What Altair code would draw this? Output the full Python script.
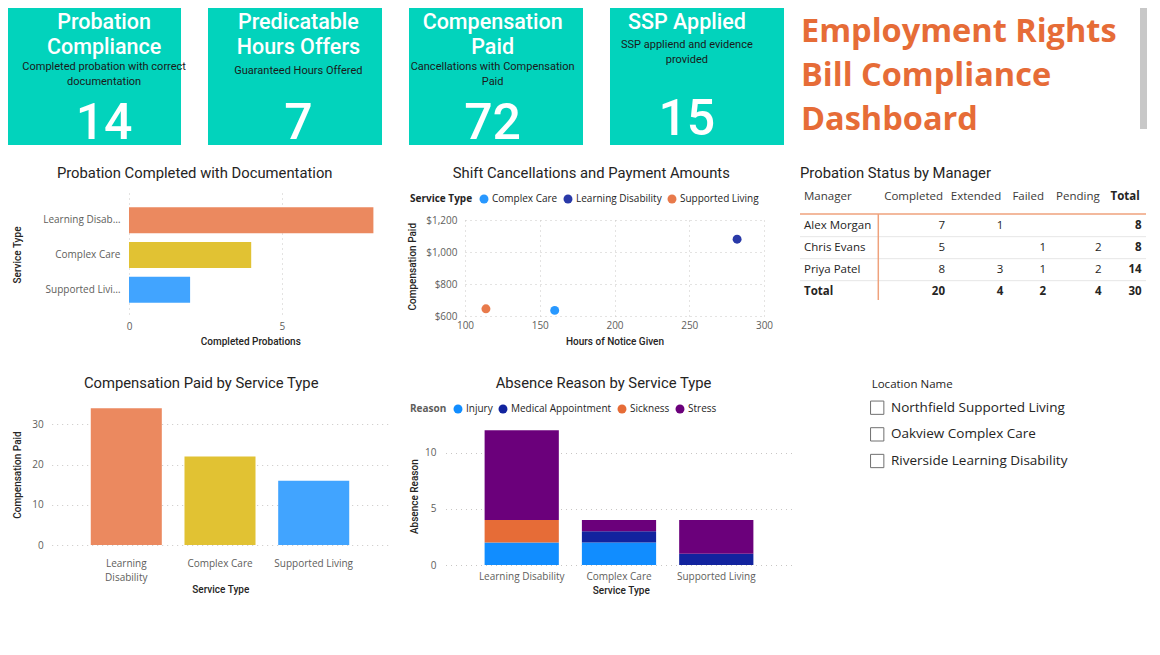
import altair as alt
import pandas as pd

# ---------------- data ----------------
kpi_titles = ["Probation\nCompliance", "Predicatable\nHours Offers", "Compensation\nPaid", "SSP Applied"]
kpi_subtitles = [
    "Completed probation with correct\ndocumentation",
    "Guaranteed Hours Offered",
    "Cancellations with Compensation\nPaid",
    "SSP appliend and evidence\nprovided",
]
kpi_values = [14, 7, 72, 15]

dashboard_title = "Employment Rights\nBill Compliance\nDashboard"

service_types = ["Learning Disability", "Complex Care", "Supported Living"]
service_colors = ["#EB895F", "#E1C233", "#41A4FF"]
completed_probations = [8, 4, 2]
comp_paid_counts = [34, 22, 16]

scatter_services = ["Complex Care", "Learning Disability", "Supported Living"]
scatter_colors = ["#118DFF", "#12239E", "#E66C37"]
hours_notice = [160, 282, 114]
comp_paid_amount = [635, 1080, 645]

reasons = ["Injury", "Medical Appointment", "Sickness", "Stress"]
reason_colors = ["#118DFF", "#12239E", "#E66C37", "#6B007B"]
absence_service = ["Learning Disability", "Learning Disability", "Learning Disability",
                   "Complex Care", "Complex Care", "Complex Care",
                   "Supported Living", "Supported Living"]
absence_reason = ["Injury", "Sickness", "Stress",
                  "Injury", "Medical Appointment", "Stress",
                  "Medical Appointment", "Stress"]
absence_count = [2, 2, 8, 2, 1, 1, 1, 3]

managers = ["Alex Morgan", "Chris Evans", "Priya Patel"]
status_cols = ["Completed", "Extended", "Failed", "Pending"]
status_completed = [7, 5, 8]
status_extended = [1, None, 3]
status_failed = [None, 1, 1]
status_pending = [None, 2, 2]

locations = ["Northfield Supported Living", "Oakview Complex Care", "Riverside Learning Disability"]

probation_ticks = [0, 5]
hours_ticks = [100, 150, 200, 250, 300]
amount_ticks = [600, 800, 1000, 1200]
comp_ticks = [0, 10, 20, 30]
absence_ticks = [0, 5, 10]

# ---------------- style ----------------
W, H = 1144, 630
DIN = "Roboto"
UI = "Open Sans"
DARK = "#252423"
GRAY = "#605E5C"
GRID = "#C8C6C4"
TEAL = "#02D3BC"
ORANGE = "#E66C37"


def single_text(text, x, y, **kw):
    return alt.Chart(pd.DataFrame({"t": [text]})).mark_text(lineBreak="\n", **kw).encode(
        text="t:N", x=alt.value(x), y=alt.value(y))


def x_axis(offset, grid=False, baseline="middle", **kw):
    return alt.Axis(orient="top", offset=offset, grid=grid, gridDash=[1, 4], gridColor=GRID,
                    gridWidth=1, domain=False, ticks=False, tickSize=0, labelPadding=0,
                    labelBaseline=baseline, labelFont=UI, labelFontSize=10, labelColor=GRAY,
                    labelFlush=False, labelAngle=0, title=None, **kw)


def y_axis(offset, grid=False, **kw):
    return alt.Axis(orient="left", offset=offset, grid=grid, gridDash=[1, 4], gridColor=GRID,
                    gridWidth=1, domain=False, ticks=False, tickSize=0, labelPadding=0,
                    labelAlign="right", labelBaseline="middle", labelFont=UI, labelFontSize=10,
                    labelColor=GRAY, labelFlush=False, title=None, **kw)


def title_text(text, x, y, align="center"):
    return single_text(text, x, y, font=DIN, fontSize=14.8, color=DARK, align=align, baseline="middle")


def axis_title(text, x, y, angle=0):
    kw = {"angle": angle} if angle else {}
    return single_text(text, x, y, font=DIN, fontSize=10, fontWeight=500, color=DARK,
                       align="center", baseline="middle", **kw)


layers = []

# ---------------- KPI cards ----------------
kpi_keys = [t.replace("\n", " ") for t in kpi_titles]
cards_df = pd.DataFrame({"key": kpi_keys, "title": kpi_titles, "subtitle": kpi_subtitles, "value": kpi_values})
card_x = alt.X("key:N", sort=kpi_keys,
               scale=alt.Scale(domain=kpi_keys, range=[-1, 776], paddingInner=0.1343, paddingOuter=0),
               axis=None)
layers.append(alt.Chart(cards_df).mark_rect(color=TEAL).encode(x=card_x, y=alt.value(0), y2=alt.value(137)))
layers.append(alt.Chart(cards_df).mark_text(font=DIN, fontSize=21.5, fontWeight=500, color="white",
                                            baseline="top", lineHeight=25.5, lineBreak="\n")
              .encode(x=card_x, y=alt.value(3.5), text="title:N"))
sub_y = [59, 63, 59, 37]
num_y = [130.5, 130.5, 130.5, 127]
for key, sy, ny in zip(kpi_keys, sub_y, num_y):
    base = alt.Chart(cards_df).transform_filter(alt.datum.key == key)
    layers.append(base.mark_text(font=DIN, fontSize=11, color="#1A1A1A", baseline="middle",
                                 lineHeight=14.5, lineBreak="\n")
                  .encode(x=card_x, y=alt.value(sy), text="subtitle:N"))
    layers.append(base.mark_text(font=DIN, fontSize=50, fontWeight=500, color="white", baseline="alphabetic")
                  .encode(x=card_x, y=alt.value(ny), text="value:Q"))

# dashboard title + scrollbar
layers.append(single_text(dashboard_title, 793, 23.9, font=UI, fontWeight="bold", fontSize=32.5,
                          color=ORANGE, align="left", baseline="middle", lineHeight=44))
layers.append(alt.Chart(pd.DataFrame({"a": [0]})).mark_rect(color="#C8C8C8").encode(
    x=alt.value(1132), x2=alt.value(1139), y=alt.value(0), y2=alt.value(121)))

# ---------------- Panel A: probation bars ----------------
prob_df = pd.DataFrame({"Service Type": service_types, "Completed": completed_probations})
layers.append(alt.Chart(prob_df).mark_bar().encode(
    y=alt.Y("Service Type:N", sort=service_types,
            scale=alt.Scale(domain=service_types, range=[185, 309], paddingInner=0.254, paddingOuter=0.41),
            axis=y_axis(-112, labelLimit=78)),
    x=alt.X("Completed:Q", scale=alt.Scale(domain=[0, 8], range=[121, 365.4], nice=False),
            axis=x_axis(-318.7, grid=True, values=probation_ticks, format="d")),
    color=alt.Color("Service Type:N", scale=alt.Scale(domain=service_types, range=service_colors), legend=None),
))
layers.append(title_text("Probation Completed with Documentation", 186.7, 166))
layers.append(axis_title("Completed Probations", 242.8, 333.7))
layers.append(axis_title("Service Type", 10.3, 247, angle=270))

# ---------------- Panel B: scatter ----------------
sc_df = pd.DataFrame({"Service Type": scatter_services, "Hours": hours_notice, "Comp": comp_paid_amount})
layers.append(alt.Chart(sc_df).mark_circle(size=80, opacity=0.9).encode(
    x=alt.X("Hours:Q", scale=alt.Scale(domain=[100, 300], range=[457, 756], nice=False, zero=False),
            axis=x_axis(-317.7, grid=True, values=hours_ticks, format="d")),
    y=alt.Y("Comp:Q", scale=alt.Scale(domain=[600, 1200], range=[308, 212], nice=False, zero=False),
            axis=y_axis(-449, grid=True, values=amount_ticks, format="$,.0f")),
    color=alt.Color("Service Type:N", scale=alt.Scale(domain=scatter_services, range=scatter_colors),
                    legend=alt.Legend(orient="none", legendX=402, legendY=186, direction="horizontal",
                                      titleOrient="left", symbolType="circle", symbolSize=80,
                                      symbolStrokeWidth=0, labelFont=UI, labelFontSize=10,
                                      labelColor=DARK, titleFont=UI, titleFontSize=10,
                                      titleFontWeight="bold", titleColor=DARK, titlePadding=6,
                                      labelOffset=3, columnPadding=5, padding=0)),
))
layers.append(title_text("Shift Cancellations and Payment Amounts", 583.3, 166))
layers.append(axis_title("Hours of Notice Given", 607, 333.7))
layers.append(axis_title("Compensation Paid", 405.3, 258.7, angle=270))

# ---------------- Panel C: table ----------------
layers.append(title_text("Probation Status by Manager", 792, 166, align="left"))
status_values = {"Completed": status_completed, "Extended": status_extended,
                 "Failed": status_failed, "Pending": status_pending}
rows = managers + ["Total"]
records = []
for i, m in enumerate(managers):
    records.append({"row": m, "col": "Manager", "value": m, "bold": False})
    tot = 0
    for c in status_cols:
        v = status_values[c][i]
        if v is not None:
            records.append({"row": m, "col": c, "value": str(v), "bold": False})
            tot += v
    records.append({"row": m, "col": "Total", "value": str(tot), "bold": True})
records.append({"row": "Total", "col": "Manager", "value": "Total", "bold": True})
grand = 0
for c in status_cols:
    s = sum(v for v in status_values[c] if v is not None)
    grand += s
    records.append({"row": "Total", "col": c, "value": str(s), "bold": True})
records.append({"row": "Total", "col": "Total", "value": str(grand), "bold": True})
cells = pd.DataFrame(records)

row_y = alt.Y("row:N", scale=alt.Scale(type="point", domain=rows, range=[217.7, 283.7], padding=0), axis=None)
col_pos = {"Manager": (796, "left"), "Completed": (937, "right"), "Extended": (995.3, "right"),
           "Failed": (1038, "right"), "Pending": (1093.7, "right"), "Total": (1133.7, "right")}
for col, (cx, al) in col_pos.items():
    hx = cx if al == "left" else cx - 2
    layers.append(single_text(col, hx, 188.7, font=UI, fontSize=11.5, color=(DARK if col == "Total" else "#3B3A39"),
                              fontWeight=("bold" if col == "Total" else "normal"), align=al, baseline="middle"))
    for b in (False, True):
        layers.append(alt.Chart(cells).transform_filter(
            (alt.datum.col == col) & (alt.datum.bold == b)).mark_text(
            font=UI, fontSize=11.5, color=DARK, fontWeight=("bold" if b else "normal"),
            align=al, baseline="middle").encode(x=alt.value(cx), y=row_y, text="value:N"))

layers.append(alt.Chart(pd.DataFrame({"row": managers})).mark_rule(color="#E6E6E6", strokeWidth=1, yOffset=11).encode(
    y=row_y, x=alt.value(792), x2=alt.value(1138)))
layers.append(alt.Chart(pd.DataFrame({"a": [0]})).mark_rule(color="#EFA27C", strokeWidth=1.5).encode(
    x=alt.value(792), x2=alt.value(1138), y=alt.value(206)))
layers.append(alt.Chart(pd.DataFrame({"a": [0]})).mark_rule(color="#EFA27C", strokeWidth=1.5).encode(
    x=alt.value(870.3), y=alt.value(206), y2=alt.value(292)))

# ---------------- Panel D: compensation bars ----------------
cp_df = pd.DataFrame({"Service Type": service_types, "Comp": comp_paid_counts})
layers.append(alt.Chart(cp_df).mark_bar().encode(
    x=alt.X("Service Type:N", sort=service_types,
            scale=alt.Scale(domain=service_types, range=[43.7, 380.3], paddingInner=0.242, paddingOuter=0.417),
            axis=x_axis(-550.8, baseline="top", labelLineHeight=14,
                        labelExpr="length(datum.label) > 16 ? split(datum.label, ' ') : datum.label")),
    y=alt.Y("Comp:Q", scale=alt.Scale(domain=[0, 35], range=[537, 396.2], nice=False),
            axis=y_axis(-35.3, grid=True, values=comp_ticks, format="d")),
    color=alt.Color("Service Type:N", scale=alt.Scale(domain=service_types, range=service_colors), legend=None),
))
layers.append(title_text("Compensation Paid by Service Type", 193.2, 376))
layers.append(axis_title("Service Type", 212.8, 582))
layers.append(axis_title("Compensation Paid", 10.3, 467, angle=270))

# ---------------- Panel E: absence stacked bars ----------------
ab_df = pd.DataFrame({"Service Type": absence_service, "Reason": absence_reason, "Count": absence_count})
reason_expr = "indexof([" + ", ".join("'" + r + "'" for r in reasons) + "], datum.Reason)"
layers.append(alt.Chart(ab_df).transform_calculate(reason_order=reason_expr).mark_bar().encode(
    x=alt.X("Service Type:N", sort=service_types,
            scale=alt.Scale(domain=service_types, range=[437.5, 784.5], paddingInner=0.237, paddingOuter=0.402),
            axis=x_axis(-568)),
    y=alt.Y("sum(Count):Q", stack="zero", scale=alt.Scale(domain=[0, 12], range=[557, 422.2], nice=False),
            axis=y_axis(-428, grid=True, values=absence_ticks, format="d")),
    color=alt.Color("Reason:N", scale=alt.Scale(domain=reasons, range=reason_colors),
                    legend=alt.Legend(orient="none", legendX=402, legendY=396, direction="horizontal",
                                      titleOrient="left", symbolType="circle", symbolSize=80,
                                      symbolStrokeWidth=0, labelFont=UI, labelFontSize=10,
                                      labelColor=DARK, titleFont=UI, titleFontSize=10,
                                      titleFontWeight="bold", titleColor=GRAY, titlePadding=6,
                                      labelOffset=3, columnPadding=5, padding=0)),
    order=alt.Order("reason_order:Q", sort="ascending"),
))
layers.append(title_text("Absence Reason by Service Type", 595.5, 376))
layers.append(axis_title("Service Type", 613.3, 582.7))
layers.append(axis_title("Absence Reason", 407, 488.7, angle=270))

# ---------------- Panel F: slicer ----------------
layers.append(single_text("Location Name", 863.7, 377, font=UI, fontSize=11.5, color=DARK,
                          align="left", baseline="middle"))
loc_df = pd.DataFrame({"Location Name": locations})
loc_y = alt.Y("Location Name:N", scale=alt.Scale(type="point", domain=locations, range=[399.7, 453], padding=0),
              axis=None)
layers.append(alt.Chart(loc_df).mark_point(shape="square", filled=False, size=177, color="#707070",
                                           strokeWidth=1, opacity=1).encode(x=alt.value(869.2), y=loc_y))
layers.append(alt.Chart(loc_df).mark_text(font=UI, fontSize=13.5, color=DARK, align="left", baseline="middle")
              .encode(x=alt.value(883), y=loc_y, text="Location Name:N"))

chart = alt.layer(*layers).resolve_scale(
    x="independent", y="independent", color="independent"
).resolve_axis(x="independent", y="independent").resolve_legend(color="independent").properties(
    width=W, height=H, padding=0, autosize=alt.AutoSizeParams(type="none"), background="white"
).configure_view(stroke=None)

chart.save("out.html", embed_options={"renderer": "svg", "actions": False})
